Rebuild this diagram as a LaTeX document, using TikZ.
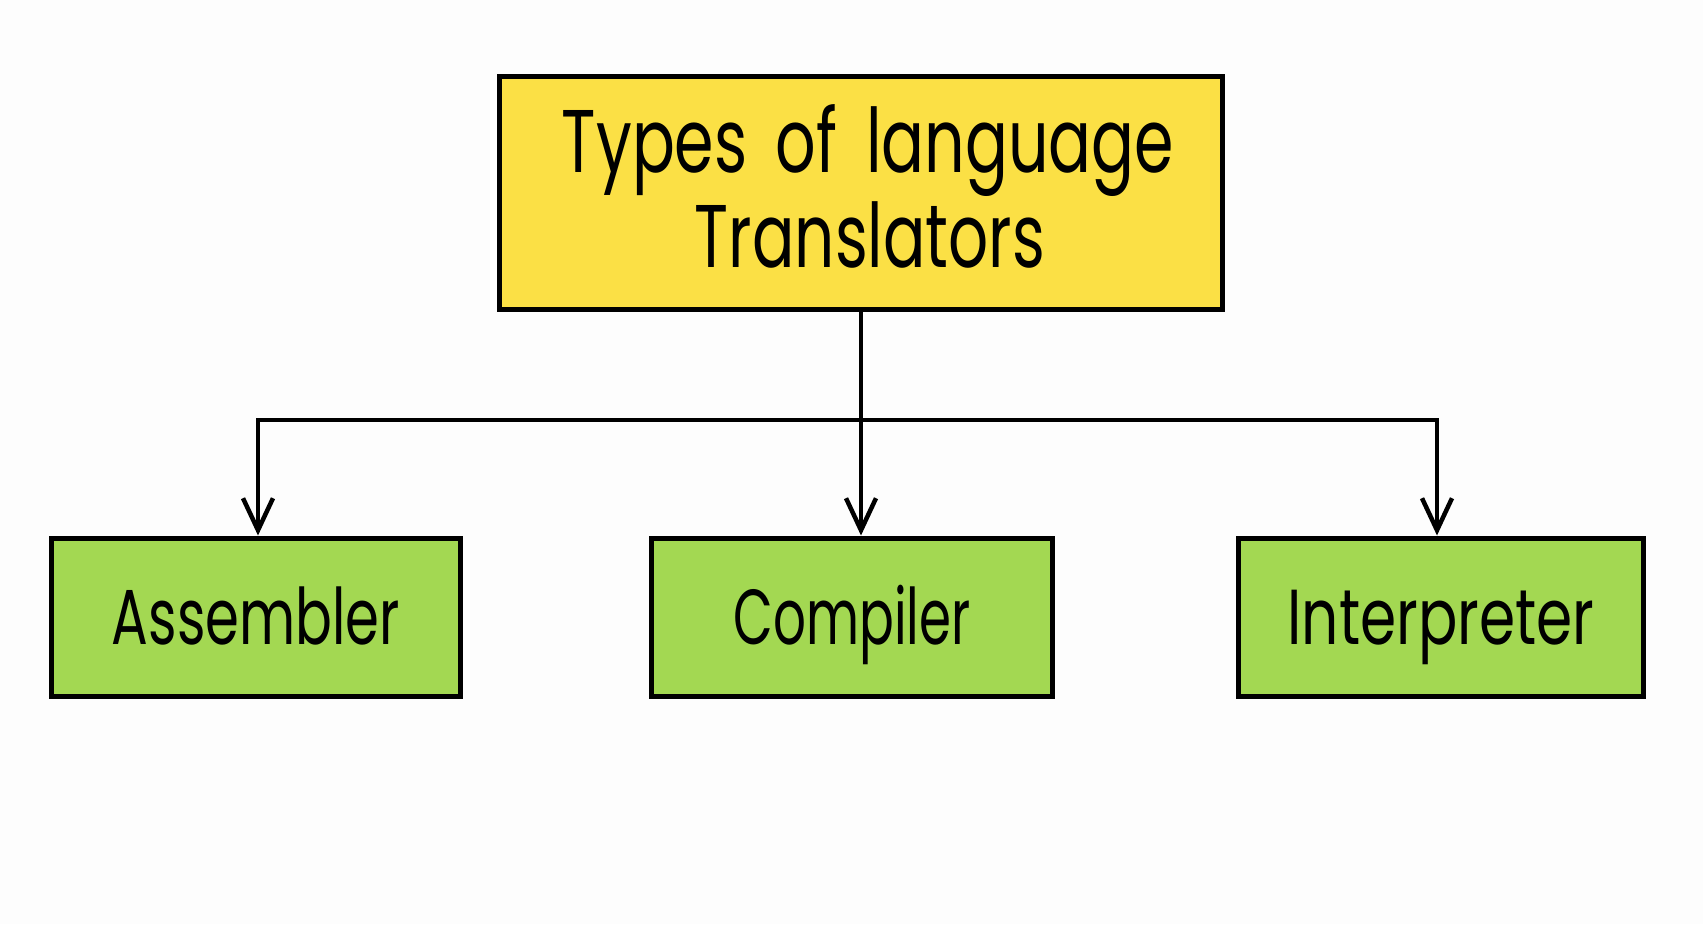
\documentclass[tikz,border=0pt]{standalone}
\usepackage{fontspec}
\setmainfont{Poppins}
\usepackage{graphicx}
\usetikzlibrary{arrows.meta}
\definecolor{bgc}{HTML}{FDFDFD}
\definecolor{ybox}{HTML}{FBE045}
\definecolor{gbox}{HTML}{A3D852}
\begin{document}
\begin{tikzpicture}[x=1pt,y=-1pt,
  box/.style={draw=black, line width=5pt, rectangle, inner sep=0pt},
  ybx/.style={box, fill=ybox, minimum width=723pt, minimum height=233pt},
  gbx/.style={box, fill=gbox, minimum height=158pt, text height=54pt, text depth=0pt,
    font=\fontsize{78}{80}\selectfont},
  ttl/.style={anchor=base, inner sep=0pt, font=\fontsize{89}{92}\selectfont},
  conn/.style={line width=4.5pt, draw=black},
  tip/.style={-{Straight Barb[length=32pt,width=30pt,line join=miter]}}]
\fill[bgc] (0,0) rectangle (1703,924);
\useasboundingbox (0,0) rectangle (1703,924);
\node[ybx] (top) at (861,193) {};
\node[ttl] (t1) at (868,172) {\resizebox{612pt}{\height}{Types\hspace{0.45em}of\hspace{0.45em}language}};
\node[ttl] (t2) at (870,267) {\resizebox{350pt}{\height}{Translators}};
\node[gbx, minimum width=409pt] (A) at (256,617) {\resizebox{288pt}{\height}{Assembler}};
\node[gbx, minimum width=401pt] (C) at (852,617) {\resizebox{237pt}{\height}{Compiler}};
\node[gbx, minimum width=405pt] (I) at (1441,617) {\resizebox{307pt}{\height}{Interpreter}};
\coordinate (j) at (861,420);
\draw[conn] (top.south) -- (j);
\draw[conn, tip] (j) -| ([xshift=2pt]A.north);
\draw[conn, tip] (j) -| ([xshift=-4pt]I.north);
\draw[conn, tip] (j) -- (j |- C.north);
\end{tikzpicture}
\end{document}
